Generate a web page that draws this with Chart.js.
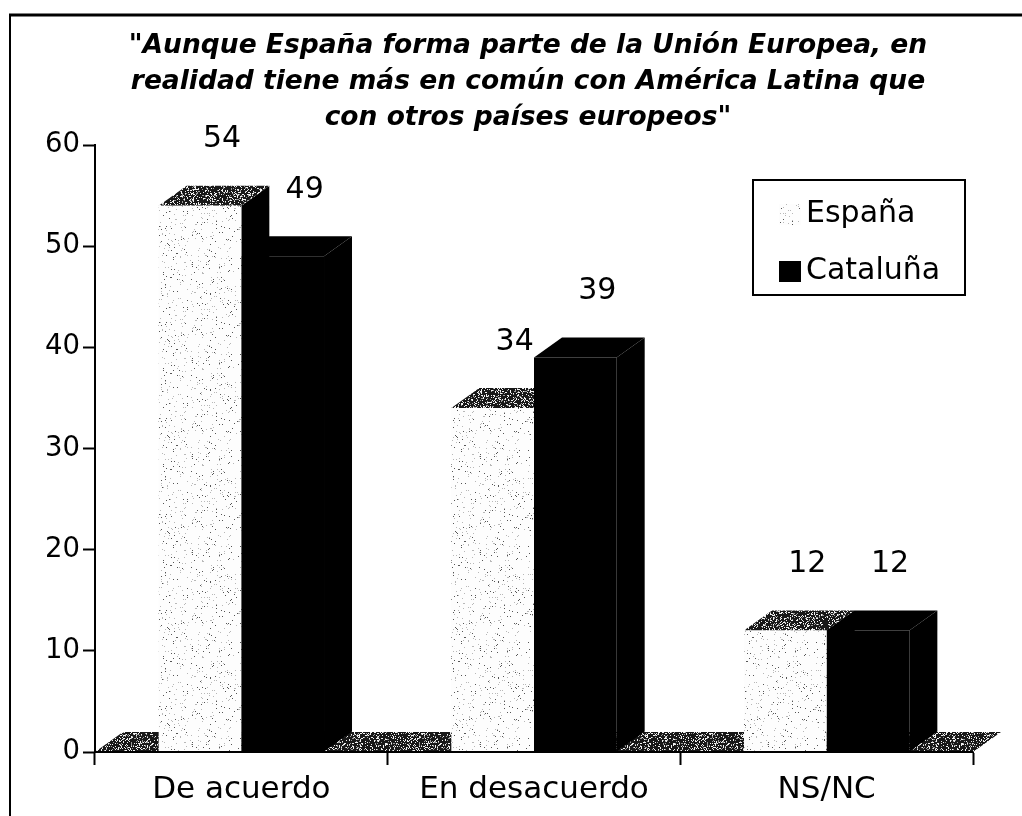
<!DOCTYPE html>
<html lang="es">
<head>
    <meta charset="UTF-8">
    <title>España y Cataluña frente a América Latina</title>
    <script src="https://cdn.jsdelivr.net/npm/chart.js"></script>
    <style>
        html, body {
            margin: 0;
            padding: 0;
            background: #ffffff;
        }

        canvas {
            display: block;
        }
    </style>
</head>
<body>

    <canvas id="opinionChart" width="1022" height="816"></canvas>

    <script>
        // Survey answers (percent)
        const categories = ['De acuerdo', 'En desacuerdo', 'NS/NC'];
        const seriesNames = ['España', 'Cataluña'];
        const espana = [54, 34, 12];
        const cataluna = [49, 39, 12];
        const yTicks = [0, 10, 20, 30, 40, 50, 60];
        const titleLines = [
            '"Aunque España forma parte de la Unión Europea, en',
            'realidad tiene más en común con América Latina que',
            'con otros países europeos"'
        ];

        // fake 3D depth of the bars and the floor
        const DEPTH_X = 28;
        const DEPTH_Y = 20;
        const FONT = 'DejaVu Sans';

        const canvas = document.getElementById('opinionChart');
        const ctx = canvas.getContext('2d');

        // speckled fill, like an old print pattern
        function makeStipple(base, specks, seed) {
            const size = 96;
            const tile = document.createElement('canvas');
            tile.width = size;
            tile.height = size;
            const g = tile.getContext('2d');
            g.fillStyle = base;
            g.fillRect(0, 0, size, size);
            let s = seed;
            const next = () => {
                s = (s * 1103515245 + 12345) & 0x7fffffff;
                return s / 0x7fffffff;
            };
            specks.forEach(([color, density]) => {
                g.fillStyle = color;
                const count = Math.round(size * size * density);
                for (let i = 0; i < count; i++) {
                    g.fillRect(Math.floor(next() * size), Math.floor(next() * size), 1, 1);
                }
            });
            return ctx.createPattern(tile, 'repeat');
        }

        const lightDots = makeStipple('#fdfdfd', [['#b8b8b8', 0.03], ['#555555', 0.018]], 7);
        const darkDots = makeStipple('#181818', [['#9a9a9a', 0.12], ['#f2f2f2', 0.2]], 3);

        function poly(c, pts) {
            c.beginPath();
            c.moveTo(pts[0][0], pts[0][1]);
            for (let i = 1; i < pts.length; i++) c.lineTo(pts[i][0], pts[i][1]);
            c.closePath();
            c.fill();
        }

        // floor, bar sides and bar tops, drawn before the bar fronts
        const depthPlugin = {
            id: 'depth3d',
            beforeDatasetsDraw(chart) {
                const c = chart.ctx;
                const { left, right, bottom } = chart.chartArea;
                c.save();
                c.fillStyle = darkDots;
                poly(c, [[left, bottom], [left + DEPTH_X, bottom - DEPTH_Y],
                         [right + DEPTH_X, bottom - DEPTH_Y], [right, bottom]]);

                chart.data.datasets.forEach((ds, di) => {
                    chart.getDatasetMeta(di).data.forEach(bar => {
                        const { x, y, base, width } = bar.getProps(['x', 'y', 'base', 'width'], true);
                        const x0 = x - width / 2;
                        const x1 = x + width / 2;
                        c.fillStyle = '#000';
                        poly(c, [[x1, y], [x1 + DEPTH_X, y - DEPTH_Y],
                                 [x1 + DEPTH_X, base - DEPTH_Y], [x1, base]]);
                        c.fillStyle = di === 0 ? darkDots : '#000';
                        poly(c, [[x0, y], [x0 + DEPTH_X, y - DEPTH_Y],
                                 [x1 + DEPTH_X, y - DEPTH_Y], [x1, y]]);
                    });
                });
                c.restore();
            },
            afterDatasetsDraw(chart) {
                const c = chart.ctx;
                const { left, right, bottom } = chart.chartArea;
                c.save();
                // base line under the bars
                c.strokeStyle = '#000';
                c.lineWidth = 2;
                c.beginPath();
                c.moveTo(left, bottom);
                c.lineTo(right, bottom);
                c.stroke();

                // value labels above each bar
                c.fillStyle = '#000';
                c.font = '30px "' + FONT + '"';
                c.textAlign = 'center';
                c.textBaseline = 'middle';
                chart.data.datasets.forEach((ds, di) => {
                    chart.getDatasetMeta(di).data.forEach((bar, i) => {
                        c.fillText(String(ds.data[i]), bar.x + 22, bar.y - DEPTH_Y - 46);
                    });
                });
                c.restore();
            }
        };

        // title, boxed legend in the upper right and the outer frame
        const decorations = {
            id: 'decorations',
            afterDraw(chart) {
                const c = chart.ctx;
                c.save();
                c.fillStyle = '#000';
                c.font = 'italic bold 26.5px "' + FONT + '"';
                c.textAlign = 'center';
                c.textBaseline = 'middle';
                titleLines.forEach((line, i) => {
                    c.fillText(line, 528, 46 + i * 36);
                });

                c.strokeStyle = '#000';
                c.lineWidth = 2;
                c.strokeRect(753, 180, 212, 115);

                c.font = '30px "' + FONT + '"';
                c.textAlign = 'left';
                chart.data.datasets.forEach((ds, i) => {
                    const cy = 214 + i * 57;
                    c.fillStyle = ds.backgroundColor;
                    c.fillRect(779, cy - 10, 22, 21);
                    c.fillStyle = '#000';
                    c.fillText(ds.label, 806, cy);
                });

                // frame: top and left edges
                c.lineWidth = 3;
                c.beginPath();
                c.moveTo(9, 15);
                c.lineTo(1022, 15);
                c.stroke();
                c.lineWidth = 2;
                c.beginPath();
                c.moveTo(10, 14);
                c.lineTo(10, 816);
                c.stroke();
                c.restore();
            }
        };

        new Chart(ctx, {
            type: 'bar',
            data: {
                labels: categories,
                datasets: [
                    {
                        label: seriesNames[0],
                        data: espana,
                        backgroundColor: lightDots,
                        borderWidth: 0
                    },
                    {
                        label: seriesNames[1],
                        data: cataluna,
                        backgroundColor: '#000000',
                        borderWidth: 0
                    }
                ]
            },
            options: {
                responsive: false,
                animation: false,
                devicePixelRatio: 1,
                layout: {
                    padding: { left: 0, right: 49, top: 145, bottom: 0 }
                },
                datasets: {
                    bar: { categoryPercentage: 0.565, barPercentage: 1 }
                },
                plugins: {
                    legend: { display: false },
                    tooltip: { enabled: false },
                    title: { display: false }
                },
                scales: {
                    x: {
                        grid: {
                            drawOnChartArea: false,
                            offset: true,
                            tickLength: 13,
                            tickWidth: 2,
                            tickColor: '#000'
                        },
                        border: { display: true, color: '#000', width: 2 },
                        ticks: {
                            color: '#000',
                            font: { family: FONT, size: 31 },
                            padding: 6
                        },
                        afterFit(scale) { scale.height = 64; }
                    },
                    y: {
                        min: 0,
                        max: 60,
                        afterBuildTicks(scale) {
                            scale.ticks = yTicks.map(v => ({ value: v }));
                        },
                        ticks: {
                            color: '#000',
                            font: { family: FONT, size: 27.5 },
                            padding: 3
                        },
                        grid: {
                            drawOnChartArea: false,
                            tickLength: 12,
                            tickWidth: 2,
                            tickColor: '#000'
                        },
                        border: { color: '#000', width: 2 },
                        afterFit(scale) { scale.width = 95; }
                    }
                }
            },
            plugins: [depthPlugin, decorations]
        });
    </script>

</body>
</html>
